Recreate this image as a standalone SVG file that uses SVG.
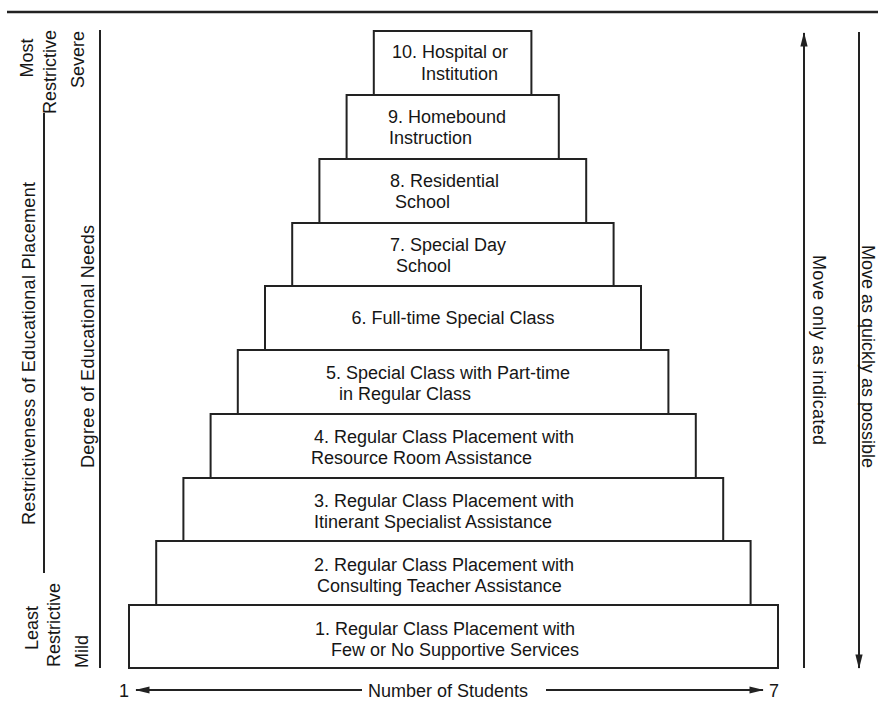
<svg xmlns="http://www.w3.org/2000/svg" width="878" height="710" viewBox="0 0 878 710">
<defs>
<style>
.box{fill:#fff;stroke:#222;stroke-width:2}
.ln{stroke:#222;stroke-width:2;fill:none}
text{font-family:"Liberation Sans",Arial,Helvetica,sans-serif;font-size:18px;fill:#161616}
</style>
<marker id="ah2" viewBox="0 0 16 10" refX="15" refY="5" markerWidth="16" markerHeight="9" markerUnits="userSpaceOnUse" orient="auto">
<path d="M0,1 L16,5 L0,9 Z" fill="#222"/>
</marker>
</defs>
<rect width="878" height="710" fill="#fff"/>
<line x1="7" y1="12" x2="878" y2="12" stroke="#222" stroke-width="2.5"/>

<g id="left-labels">
<text transform="translate(33,58) rotate(-90)" text-anchor="middle">Most</text>
<text transform="translate(56,72) rotate(-90)" text-anchor="middle">Restrictive</text>
<text transform="translate(84,88) rotate(-90)">Severe</text>
<text transform="translate(35,525) rotate(-90)" textLength="343" lengthAdjust="spacing">Restrictiveness of Educational Placement</text>
<text transform="translate(94,468) rotate(-90)" textLength="243" lengthAdjust="spacing">Degree of Educational Needs</text>
<text transform="translate(38,628) rotate(-90)" text-anchor="middle">Least</text>
<text transform="translate(60,625) rotate(-90)" text-anchor="middle">Restrictive</text>
<text transform="translate(88,668) rotate(-90)">Mild</text>
<line class="ln" x1="44" y1="113" x2="44" y2="573"/>
<line class="ln" x1="100" y1="30" x2="100" y2="668"/>
</g>

<g id="n1"><rect class="box" x="129" y="605" width="649" height="63"/>
<text x="315" y="635">1. Regular Class Placement with</text>
<text x="331" y="656">Few or No Supportive Services</text></g>
<g id="n2"><rect class="box" x="156.2" y="541" width="594.4" height="64"/>
<text x="314" y="571">2. Regular Class Placement with</text>
<text x="317" y="592">Consulting Teacher Assistance</text></g>
<g id="n3"><rect class="box" x="183.4" y="478" width="539.8" height="63"/>
<text x="314" y="507">3. Regular Class Placement with</text>
<text x="314" y="528">Itinerant Specialist Assistance</text></g>
<g id="n4"><rect class="box" x="210.6" y="414" width="485.2" height="64"/>
<text x="314" y="443">4. Regular Class Placement with</text>
<text x="311" y="464">Resource Room Assistance</text></g>
<g id="n5"><rect class="box" x="237.8" y="350" width="430.6" height="64"/>
<text x="326" y="379">5. Special Class with Part-time</text>
<text x="339" y="400">in Regular Class</text></g>
<g id="n6"><rect class="box" x="265" y="286" width="376" height="64"/>
<text x="453" y="324" text-anchor="middle">6. Full-time Special Class</text></g>
<g id="n7"><rect class="box" x="292.2" y="223" width="321.4" height="63"/>
<text x="390" y="251">7. Special Day</text>
<text x="396" y="272">School</text></g>
<g id="n8"><rect class="box" x="319.4" y="159" width="266.8" height="64"/>
<text x="390" y="187">8. Residential</text>
<text x="395" y="208">School</text></g>
<g id="n9"><rect class="box" x="346.6" y="95" width="212.2" height="64"/>
<text x="388" y="123">9. Homebound</text>
<text x="389" y="144">Instruction</text></g>
<g id="n10"><rect class="box" x="373.8" y="31" width="157.6" height="64"/>
<text x="392" y="58">10. Hospital or</text>
<text x="421" y="80">Institution</text></g>

<g id="connectors">
<line class="ln" x1="804" y1="668" x2="804" y2="33" marker-end="url(#ah2)"/>
<line class="ln" x1="859" y1="32" x2="859" y2="668" marker-end="url(#ah2)"/>
<line class="ln" x1="362" y1="690" x2="136" y2="690" marker-end="url(#ah2)"/>
<line class="ln" x1="546" y1="690" x2="763" y2="690" marker-end="url(#ah2)"/>
</g>
<g id="axis-labels">
<text x="119" y="697">1</text>
<text x="368" y="697">Number of Students</text>
<text x="769" y="697">7</text>
<text transform="translate(813,255) rotate(90)" textLength="190" lengthAdjust="spacing">Move only as indicated</text>
<text transform="translate(862,245) rotate(90)">Move as quickly as possible</text>
</g>
</svg>
